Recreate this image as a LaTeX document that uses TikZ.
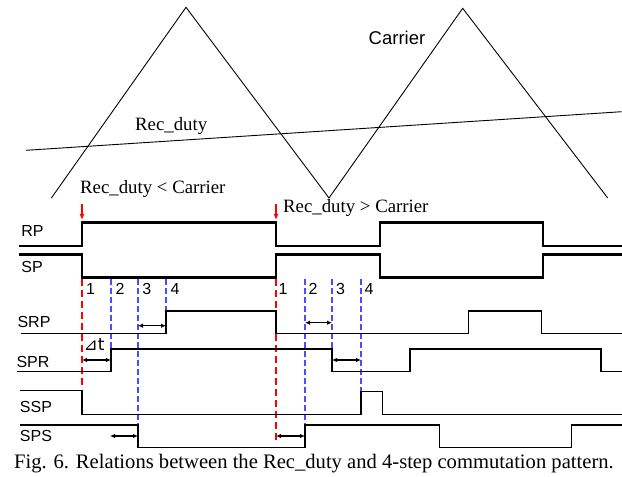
\documentclass[tikz,border=0pt]{standalone}
\usepackage{fontspec}
\setmainfont{Liberation Serif}
\setsansfont{Liberation Sans}
\newfontfamily\dejavu{DejaVu Sans}
\usetikzlibrary{arrows.meta}
\begin{document}
\begin{tikzpicture}[x=1pt,y=-1pt,
  thin line/.style={line width=0.9pt,black},
  sig/.style={line width=1.3pt,black,line join=miter},
  bigsig/.style={line width=2.6pt,black,line join=miter},
  reddash/.style={red,line width=1.1pt,dash pattern=on 7pt off 4pt},
  bluedash/.style={blue!70,line width=1.1pt,dash pattern=on 6pt off 3pt},
  dt/.style={line width=1.2pt,{Latex[length=5pt,width=4.5pt]}-{Latex[length=5pt,width=4.5pt]}},
  redarrow/.style={red,line width=1.2pt,-{Latex[length=6pt,width=5pt]}},
  lab/.style={font=\sffamily\fontsize{16}{16}\selectfont,inner sep=0pt},
  num/.style={font=\sffamily\fontsize{16}{16}\selectfont,inner sep=0pt},
  serif/.style={font=\fontsize{18.8}{19}\selectfont,inner sep=0pt,anchor=base west}]
\useasboundingbox (0,0) rectangle (622,477);
% carrier
\coordinate (c0) at (51.4,198);
\coordinate (p1) at (186,7.3);
\coordinate (v1) at (329,198);
\coordinate (p2) at (462.7,8.3);
\coordinate (c1) at (607.7,198);
\draw[thin line] (c0) -- (p1) -- (v1) -- (p2) -- (c1);
% rec duty line
\coordinate (r0) at (26,150.3);
\coordinate (r1) at (621.7,111.7);
\draw[thin line] (r0) -- (r1);
\node[font=\sffamily\fontsize{18.5}{19}\selectfont,inner sep=0pt] (carrier) at (397,38) {Carrier};
\node[serif] (recduty) at (135,130.7) {Rec\_duty};
\node[serif] (lt) at (80,193.3) {Rec\_duty < Carrier};
\node[serif] (gt) at (283,212.3) {Rec\_duty > Carrier};
% red event arrows
\coordinate (ra0) at (82,204); \coordinate (ra1) at (82,220);
\coordinate (rb0) at (276,204); \coordinate (rb1) at (276,220);
\draw[redarrow] (ra0) -- (ra1);
\draw[redarrow] (rb0) -- (rb1);
% RP / SP
\draw[bigsig] (19,246) -- (82,246) -- (82,222.3) -- (276,222.3) -- (276,246) -- (380,246) -- (380,222.3) -- (543,222.3) -- (543,246) -- (622,246);
\draw[bigsig] (19,254.3) -- (82,254.3) -- (82,277.7) -- (276,277.7) -- (276,254.3) -- (380,254.3) -- (380,277.7) -- (543,277.7) -- (543,254.3) -- (622,254.3);
\node[lab] (RP) at (32.5,231) {RP};
\node[lab] (SP) at (32,267) {SP};
% step numbers
\node[num] (n1) at (90.5,289) {1};
\node[num] (n2) at (120,289) {2};
\node[num] (n3) at (146.7,289) {3};
\node[num] (n4) at (175,289) {4};
\node[num] (m1) at (283,289) {1};
\node[num] (m2) at (313,289) {2};
\node[num] (m3) at (340.5,289) {3};
\node[num] (m4) at (369,289) {4};
% dashed lines
\draw[reddash] (82,279) -- (82,388);
\draw[bluedash] (111,279) -- (111,349);
\draw[bluedash] (138,279) -- (138,447.7);
\draw[bluedash] (166,279) -- (166,311);
\draw[reddash] (276,279) -- (276,441);
\draw[bluedash] (305,279) -- (305,425);
\draw[bluedash] (332,279) -- (332,371);
\draw[bluedash] (361,279) -- (361,391);
% SRP
\draw[sig] (20.7,333.5) -- (166,333.5) -- (166,311) -- (276,311) -- (276,333.5) -- (468.3,333.5) -- (468.3,311) -- (541.7,311) -- (541.7,333.5) -- (622,333.5);
\node[lab] (SRP) at (34,322) {SRP};
% SPR
\draw[sig] (16.7,371.5) -- (111,371.5) -- (111,349) -- (332,349) -- (332,371.5) -- (410,371.5) -- (410,349) -- (601,349) -- (601,371.5) -- (622,371.5);
\node[lab] (SPR) at (33,362) {SPR};
% SSP
\draw[sig] (20,390.7) -- (82,390.7) -- (82,414.3) -- (361,414.3) -- (361,391.7) -- (382.3,391.7) -- (382.3,414.3) -- (622,414.3);
\node[lab] (SSP) at (36,407) {SSP};
% SPS
\draw[sig] (20,425) -- (138,425) -- (138,447.7) -- (305,447.7) -- (305,425) -- (439.3,425) -- (439.3,447.7) -- (571.7,447.7) -- (571.7,425) -- (622,425);
\node[lab] (SPS) at (36,436) {SPS};
% delta t
\node[font=\dejavu\fontsize{17}{17}\selectfont,inner sep=0pt] (delta) at (94,345) {⊿t};
\draw[dt] (82,360) -- (111,360);
\draw[dt] (138,325.7) -- (166,325.7);
\draw[dt] (110,436) -- (138,436);
\draw[dt] (305,322.7) -- (332,322.7);
\draw[dt] (332,360) -- (361,360);
\draw[dt] (276,436) -- (305,436);
% caption
\node[font=\fontsize{20.6}{21}\selectfont,inner sep=0pt,anchor=base west] (caption) at (14,468.3) {Fig. 6. Relations between the Rec\_duty and 4-step commutation pattern.};
\end{tikzpicture}
\end{document}
